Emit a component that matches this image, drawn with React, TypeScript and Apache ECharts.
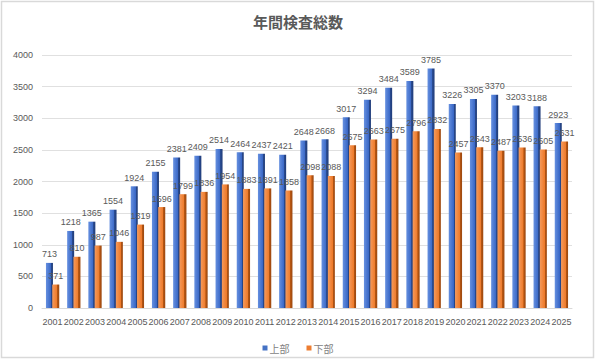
import React, { useEffect, useRef } from "react";
import * as echarts from "echarts";

const title = "年間検査総数";
const years = ["2001","2002","2003","2004","2005","2006","2007","2008","2009","2010","2011","2012","2013","2014","2015","2016","2017","2018","2019","2020","2021","2022","2023","2024","2025"];
const upper = [713,1218,1365,1554,1924,2155,2381,2409,2514,2464,2437,2421,2648,2668,3017,3294,3484,3589,3785,3226,3305,3370,3203,3188,2923];
const lower = [371,810,987,1046,1319,1596,1799,1836,1954,1883,1891,1858,2098,2088,2575,2663,2675,2796,2832,2457,2543,2487,2536,2505,2631];
const seriesNames = ["上部", "下部"];

const blueGrad = new echarts.graphic.LinearGradient(0, 0, 1, 0, [
  { offset: 0, color: "#6690e0" },
  { offset: 0.68, color: "#3a68c6" },
  { offset: 0.7, color: "#2a4c92" },
  { offset: 1, color: "#1f3b78" },
]);
const orangeGrad = new echarts.graphic.LinearGradient(0, 0, 1, 0, [
  { offset: 0, color: "#f49a5c" },
  { offset: 0.68, color: "#ee7a2a" },
  { offset: 0.7, color: "#b85712" },
  { offset: 1, color: "#9a4710" },
]);

export default function App() {
  const ref = useRef<HTMLDivElement>(null);
  useEffect(() => {
    document.body.style.margin = "0";
    const chart = echarts.init(ref.current!, null, { renderer: "svg" });
    const labelStyle = {
      show: true,
      position: "top" as const,
      distance: 4,
      fontSize: 9,
      color: "#595959",
      fontFamily: "Liberation Sans",
    };
    const legendText = { fontSize: 10, color: "#7f7f7f", fontFamily: "Noto Sans CJK JP", padding: [0, 0, 0, -3] };
    chart.setOption({
      animation: false,
      backgroundColor: "#ffffff",
      title: {
        text: title,
        left: "center",
        top: 9,
        textStyle: { fontSize: 15, fontWeight: "bold", color: "#595959", fontFamily: "Noto Sans CJK JP" },
      },
      legend: {
        data: [
          { name: seriesNames[0], itemStyle: { color: "#4472c4" }, textStyle: legendText },
          { name: seriesNames[1], itemStyle: { color: "#ed7d31" }, textStyle: legendText },
        ],
        top: 338,
        left: "center",
        icon: "rect",
        itemWidth: 5,
        itemHeight: 5,
        itemGap: 17,
        textStyle: legendText,
      },
      graphic: [
        {
          type: "rect",
          shape: { x: 1.5, y: 1.5, width: 592, height: 356 },
          style: { fill: "none", stroke: "#d9d9d9", lineWidth: 1.5 },
          silent: true,
        },
      ],
      grid: { left: 42, right: 24, top: 55, bottom: 52 },
      xAxis: {
        type: "category",
        data: years,
        axisLine: { show: true, lineStyle: { color: "#d9d9d9" } },
        axisTick: { show: false },
        axisLabel: { fontSize: 9, color: "#595959", margin: 9, interval: 0, fontFamily: "Liberation Sans" },
      },
      yAxis: {
        type: "value",
        min: 0,
        max: 4000,
        interval: 500,
        axisLine: { show: false },
        axisTick: { show: false },
        axisLabel: {
          fontSize: 9,
          color: "#595959",
          margin: 9,
          fontFamily: "Liberation Sans",
          formatter: (v: number) => String(v),
        },
        splitLine: { lineStyle: { color: "#e0e0e0", width: 1 } },
      },
      series: [
        {
          name: seriesNames[0],
          type: "bar",
          data: upper,
          barWidth: 7,
          barGap: "-10%",
          itemStyle: { color: blueGrad },
          label: labelStyle,
        },
        {
          name: seriesNames[1],
          type: "bar",
          data: lower,
          barWidth: 7,
          itemStyle: { color: orangeGrad },
          label: labelStyle,
        },
      ],
    });
    return () => chart.dispose();
  }, []);
  return <div ref={ref} style={{ width: 596, height: 360 }} />;
}
